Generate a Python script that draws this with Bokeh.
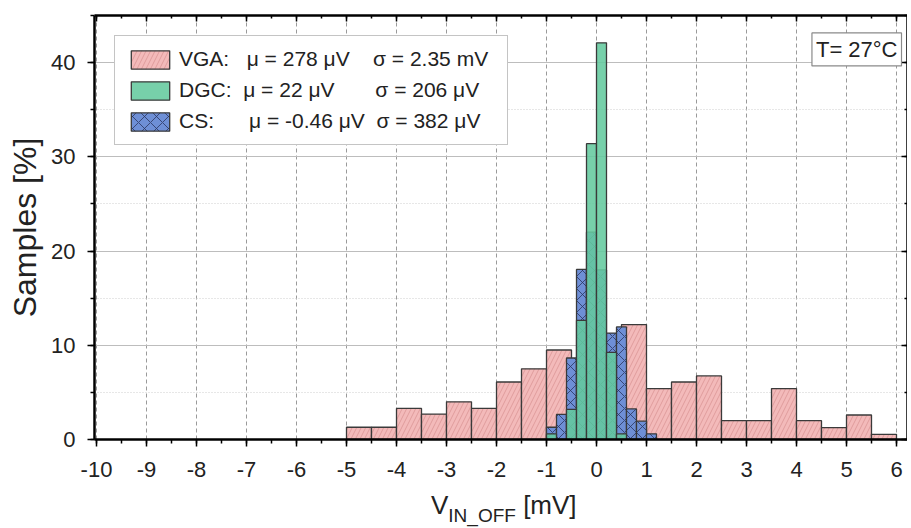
import numpy as np
from bokeh.plotting import figure
from bokeh.layouts import column
from bokeh.models import (Range1d, LinearAxis, SingleIntervalTicker, Label, Legend,
                          LegendItem, ColumnDataSource, PrintfTickFormatter, Div)
from bokeh.embed import file_html
from bokeh.resources import INLINE

# ---------------- data (percent of samples per bin) ----------------
vga_edges = np.arange(-5.0, 6.01, 0.5)          # 0.5 mV bins
vga_pct = [1.3, 1.3, 3.3, 2.7, 4.0, 3.3, 6.1, 7.5, 9.5, 7.0, 7.7,
           12.2, 5.4, 6.1, 6.75, 2.0, 2.0, 5.4, 2.0, 1.25, 2.6, 0.55]

fine_edges = np.arange(-1.0, 1.201, 0.2)         # 0.2 mV bins
cs_pct = [1.3, 2.66, 8.65, 18.05, 22.0, 18.0, 11.3, 11.95, 3.25, 1.95, 0.6]
dgc_pct = [0.6, 0.0, 3.2, 12.65, 31.4, 42.1, 9.25, 0.6, 0.0, 0.0, 0.0]

series_names = ["VGA:", "DGC:", "CS:"]
mu_texts = ["\u03bc = 278 \u03bcV", "\u03bc = 22 \u03bcV", "\u03bc = -0.46 \u03bcV"]
sigma_texts = ["\u03c3 = 2.35 mV", "\u03c3 = 206 \u03bcV", "\u03c3 = 382 \u03bcV"]
temp_text = "T= 27\u00b0C"

FONT = "Liberation Sans"
NB = "\u00a0"
gap1 = [3, 2, 6]   # column padding (non-breaking spaces) to align legend columns
gap2 = [4, 7, 2]
legend_labels = [series_names[i] + NB * gap1[i] + mu_texts[i] + NB * gap2[i] + sigma_texts[i]
                 for i in range(3)]

p = figure(frame_width=813, frame_height=424, x_range=Range1d(-10.04, 6.22),
           y_range=Range1d(0, 45), output_backend="svg", toolbar_location=None,
           min_border_left=94, min_border_right=0, min_border_top=15, min_border_bottom=50)
p.background_fill_color = "white"
p.outline_line_color = None

# axes
for ax, tick in ((p.xaxis[0], SingleIntervalTicker(interval=1, num_minor_ticks=2)),
                 (p.yaxis[0], SingleIntervalTicker(interval=10, num_minor_ticks=2))):
    ax.ticker = tick
    ax.formatter = PrintfTickFormatter(format="%d")
    ax.axis_line_color = "black"
    ax.axis_line_width = 2.5
    ax.major_tick_line_color = "black"
    ax.major_tick_line_width = 1.5
    ax.minor_tick_line_color = "black"
    ax.minor_tick_line_width = 1.5
    ax.major_tick_out = 7
    ax.major_tick_in = 0
    ax.minor_tick_out = 4
    ax.minor_tick_in = 0
    ax.major_label_text_font = FONT
    ax.major_label_text_font_size = "22px"
    ax.major_label_text_color = "#222222"
p.xaxis.major_label_standoff = 15
p.yaxis.major_label_standoff = 12

p.xaxis.axis_label = None
p.yaxis.axis_label = "Samples [%]"
p.yaxis.axis_label_text_font = FONT
p.yaxis.axis_label_text_font_size = "32px"
p.yaxis.axis_label_text_font_style = "normal"
p.yaxis.axis_label_text_color = "#222222"
p.yaxis.axis_label_standoff = 5

for side, tick in (("above", SingleIntervalTicker(interval=1, num_minor_ticks=2)),
                   ("right", SingleIntervalTicker(interval=10, num_minor_ticks=2))):
    ax = LinearAxis(ticker=tick, axis_line_color="black", axis_line_width=2.5,
                    major_tick_in=6, major_tick_out=0, minor_tick_in=3, minor_tick_out=0,
                    major_tick_line_width=1.5, minor_tick_line_width=1.5,
                    major_label_text_font_size="1px", major_label_text_alpha=0,
                    major_label_standoff=0)
    p.add_layout(ax, side)

# grids
p.xgrid.ticker = SingleIntervalTicker(interval=1)
p.xgrid.grid_line_color = "#9a9a9a"
p.xgrid.grid_line_dash = "4 3"
p.xgrid.grid_line_width = 1
p.ygrid.ticker = SingleIntervalTicker(interval=10, num_minor_ticks=2)
p.ygrid.grid_line_color = "#bdbdbd"
p.ygrid.grid_line_width = 1.2
p.ygrid.minor_grid_line_color = "#cfcfcf"
p.ygrid.minor_grid_line_dash = "1 2"

# bars
src_vga = ColumnDataSource(dict(left=vga_edges[:-1], right=vga_edges[1:], top=vga_pct,
                                bottom=[0] * len(vga_pct)))
src_cs = ColumnDataSource(dict(left=fine_edges[:-1], right=fine_edges[1:], top=cs_pct,
                               bottom=[0] * len(cs_pct)))
src_dgc = ColumnDataSource(dict(left=fine_edges[:-1], right=fine_edges[1:], top=dgc_pct,
                                bottom=[0] * len(dgc_pct)))

r_vga = p.quad(left="left", right="right", top="top", bottom="bottom", source=src_vga,
               fill_color="#f3baba", line_color="#3a3a3a", line_width=1.3,
               hatch_pattern="/", hatch_color="#d78f8f", hatch_scale=9, hatch_weight=0.7)
r_cs = p.quad(left="left", right="right", top="top", bottom="bottom", source=src_cs,
              fill_color="#6e8fd6", line_color="#3a3a3a", line_width=1.3,
              hatch_pattern="x", hatch_color="#2a3560", hatch_scale=12, hatch_weight=0.8)
r_dgc = p.quad(left="left", right="right", top="top", bottom="bottom", source=src_dgc,
               fill_color="#64c99e", fill_alpha=0.88, line_color="#3a3a3a", line_width=1.3)

# legend
legend = Legend(items=[LegendItem(label=legend_labels[0], renderers=[r_vga]),
                       LegendItem(label=legend_labels[1], renderers=[r_dgc]),
                       LegendItem(label=legend_labels[2], renderers=[r_cs])],
                location="top_left", margin=20, padding=11, spacing=7,
                glyph_width=48, glyph_height=23, label_standoff=5, label_width=317,
                label_text_font=FONT, label_text_font_size="21px", label_text_color="#222222",
                border_line_color="#8a8a8a", border_line_width=1.2,
                background_fill_color="white", background_fill_alpha=1)
p.add_layout(legend)

p.add_layout(Label(x=6.1, y=41.4, text=temp_text, text_font=FONT, text_font_size="22px",
                   text_align="right", text_baseline="middle", text_color="#222222",
                   border_line_color="#8a8a8a", border_line_width=1.2,
                   background_fill_color="white", padding=4))

# x axis title with subscript (HTML text below the figure)
xtitle = Div(text='V<sub style="font-size:19px; vertical-align:-0.42em; line-height:0">IN_OFF</sub> [mV]',
             width=911, height=39,
             styles={"font-family": FONT, "font-size": "26px", "color": "#222222",
                     "line-height": "22px", "padding-left": "426px", "white-space": "nowrap"})

layout = column(p, xtitle, spacing=0)
open("out.html", "w").write(file_html(layout, INLINE))
